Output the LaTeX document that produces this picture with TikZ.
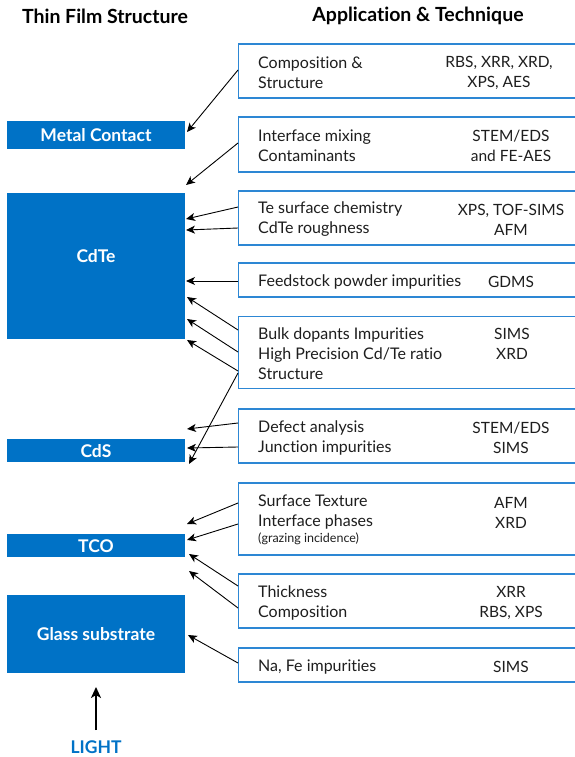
\documentclass[tikz,border=0pt]{standalone}
\usepackage{fontspec}
\setmainfont{Lato}[Ligatures={NoCommon}]
\usetikzlibrary{arrows.meta}
\definecolor{fsblue}{RGB}{0,114,198}
\definecolor{edgeblue}{RGB}{45,135,212}
\definecolor{txt}{RGB}{30,30,30}
\begin{document}
\begin{tikzpicture}[x=1pt,y=-1pt,
  layer/.style={fill=fsblue, draw=none, inner sep=0, minimum width=178pt},
  layertext/.style={text=white, font=\fontsize{17.5}{20}\selectfont\bfseries, inner sep=0},
  appbox/.style={draw=edgeblue, line width=1.2pt, fill=white, anchor=west, inner sep=0, minimum width=345pt},
  desc/.style={anchor=west, align=left, font=\fontsize{16}{20}\selectfont, inner sep=0, text=txt},
  tech/.style={align=center, font=\fontsize{15.5}{20}\selectfont, inner sep=0, text=txt},
  small/.style={anchor=west, font=\fontsize{12.5}{14}\selectfont, inner sep=0, text=txt},
  heading/.style={font=\fontsize{19.5}{22}\selectfont\bfseries, inner sep=0, text=black},
  conn/.style={-{Stealth[length=9pt,width=8pt,inset=2.5pt]}, line width=0.9pt},
]
\useasboundingbox (0,0) rectangle (575,757);

% headings
\node[heading] (h1) at (105,16) {Thin Film Structure};
\node[heading] (h2) at (418,16) {Application \& Technique};

% layers
\node[layer, minimum height=28pt] (metal) at (96,135) {};
\node[layertext] (metalt) at (96,135.5) {Metal Contact};
\node[layer, minimum height=146pt] (cdte) at (96,266) {};
\node[layertext] (cdtet) at (96,256.5) {CdTe};
\node[layer, minimum height=23pt] (cds) at (96,450.5) {};
\node[layertext] (cdst) at (96,451) {CdS};
\node[layer, minimum height=23pt] (tco) at (96,545.5) {};
\node[layertext] (tcot) at (96,546.5) {TCO};
\node[layer, minimum height=78pt] (glass) at (96,634) {};
\node[layertext] (glasst) at (96,634.5) {Glass substrate};
\node[text=fsblue, font=\fontsize{17.5}{20}\selectfont\bfseries, inner sep=0] (light) at (96,747) {LIGHT};
\coordinate (lighttop) at (96,687);
\coordinate (lightbot) at (96,730);
\draw[line width=2pt, -{Stealth[length=11pt,width=10pt,inset=3pt]}] (lightbot) -- (lighttop);

% application boxes
\node[appbox, minimum height=54pt] (b1) at (238,71) {};
\node[desc] (d1) at (258,73) {Composition \&\\Structure};
\node[tech] (t1) at (499,73) {RBS, XRR, XRD,\\XPS, AES};

\node[appbox, minimum height=55pt] (b2) at (238,144.5) {};
\node[desc] (d2) at (258,146) {Interface mixing\\Contaminants};
\node[tech] (t2) at (511,146) {STEM/EDS\\and FE-AES};

\node[appbox, minimum height=54pt] (b3) at (238,218) {};
\node[desc] (d3) at (258,219.5) {Te surface chemistry\\CdTe roughness};
\node[tech] (t3) at (511,219.5) {XPS, TOF-SIMS\\AFM};

\node[appbox, minimum height=34pt] (b4) at (238,280) {};
\node[desc] (d4) at (258,282) {Feedstock powder impurities};
\node[tech] (t4) at (511,282) {GDMS};

\node[appbox, minimum height=72pt] (b5) at (238,352.5) {};
\node[desc] (d5) at (258,354) {Bulk dopants Impurities\\High Precision Cd/Te ratio\\Structure};
\node[tech] (t5) at (512,344) {SIMS\\XRD};

\node[appbox, minimum height=54pt] (b6) at (238,436) {};
\node[desc] (d6) at (258,438) {Defect analysis\\Junction impurities};
\node[tech] (t6) at (511,438) {STEM/EDS\\SIMS};

\node[appbox, minimum height=72pt] (b7) at (238,519) {};
\node[desc] (d7) at (258,512.5) {Surface Texture\\Interface phases};
\node[small] (s7) at (258,539) {(grazing incidence)};
\node[tech] (t7) at (511,512.5) {AFM\\XRD};

\node[appbox, minimum height=54pt] (b8) at (238,601) {};
\node[desc] (d8) at (258,603) {Thickness\\Composition};
\node[tech] (t8) at (511,603) {XRR\\RBS, XPS};

\node[appbox, minimum height=34pt] (b9) at (238,665) {};
\node[desc] (d9) at (258,667) {Na, Fe impurities};
\node[tech] (t9) at (511,667) {SIMS};

% connector end points
\coordinate (a1s) at (238,70);   \coordinate (a1e) at (187,132);
\coordinate (a2s) at (238,143);  \coordinate (a2e) at (186,185);
\coordinate (a3s) at (238,207);  \coordinate (a3e) at (186,219);
\coordinate (a4s) at (238,228);  \coordinate (a4e) at (186,230);
\coordinate (a5s) at (238,281);  \coordinate (a5e) at (186,281);
\coordinate (a6s) at (238,330);  \coordinate (a6e) at (187,297);
\coordinate (a7s) at (238,352);  \coordinate (a7e) at (187,319);
\coordinate (a8s) at (238,371);  \coordinate (a8e) at (187,340);
\coordinate (a9s) at (238,373);  \coordinate (a9e) at (189,464);
\coordinate (a10s) at (238,423); \coordinate (a10e) at (187,429);
\coordinate (a11s) at (238,447); \coordinate (a11e) at (187,448);
\coordinate (a12s) at (238,503); \coordinate (a12e) at (187,524);
\coordinate (a13s) at (238,524); \coordinate (a13e) at (187,540);
\coordinate (a14s) at (238,586); \coordinate (a14e) at (189,554);
\coordinate (a15s) at (238,608); \coordinate (a15e) at (189,571);
\coordinate (a16s) at (238,663); \coordinate (a16e) at (188,635);

\foreach \i in {1,...,16} \draw[conn] (a\i s) -- (a\i e);
\end{tikzpicture}
\end{document}
